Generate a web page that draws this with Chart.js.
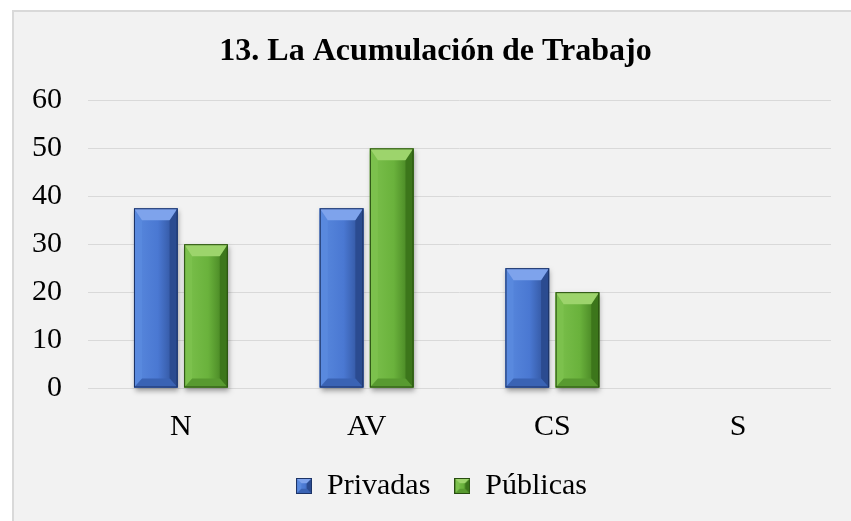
<!DOCTYPE html>
<html>
<head>
<meta charset="utf-8">
<script src="https://cdn.jsdelivr.net/npm/chart.js@4/dist/chart.umd.min.js"></script>
<style>
    html, body { margin: 0; padding: 0; background: #ffffff; overflow: hidden; }
    #frame {
        position: absolute; left: 12px; top: 10px;
        width: 860px; height: 530px;
        background: #f2f2f2;
        border: 2px solid #d9d9d9;
    }
    #chart { position: absolute; left: 0; top: 0; }
</style>
</head>
<body>
<div id="frame"><canvas id="chart" width="837" height="509"></canvas></div>
<script>
// Chart data
const categories = ['N', 'AV', 'CS', 'S'];
const privadas = [37.5, 37.5, 25, 0];
const publicas = [30, 50, 20, 0];
const yTicks = [0, 10, 20, 30, 40, 50, 60];

const serif = "'Liberation Serif', 'Times New Roman', serif";

// Bevel palettes for each series
const palettes = [
    { base: '#4a78d2', top: '#7ea3ec', left: '#5989de', right: '#2b4b90', bottom: '#3a63b4', edge: '#1c3366' },
    { base: '#6ab23c', top: '#9dd46c', left: '#7cc14d', right: '#3c761b', bottom: '#589a30', edge: '#284d10' }
];

/**
 * Draw a beveled rectangle like the Office "bevel" bar effect
 */
function drawBevel(ctx, L, T, R, B, pal, shadow) {
    const w = R - L, h = B - T;
    if (h <= 0.5) return;
    const bx = Math.min(8, w / 3);
    const bt = Math.min(12, h / 3);
    const bb = Math.min(9, h / 3);

    ctx.save();
    if (shadow) {
        ctx.shadowColor = 'rgba(0,0,0,0.35)';
        ctx.shadowBlur = 5;
        ctx.shadowOffsetX = 1;
        ctx.shadowOffsetY = 3;
    }
    ctx.fillStyle = pal.base;
    ctx.fillRect(L, T, w, h);
    ctx.restore();

    const face = ctx.createLinearGradient(L, 0, R, 0);
    face.addColorStop(0, pal.left);
    face.addColorStop(0.55, pal.base);
    face.addColorStop(1, pal.right);
    ctx.fillStyle = face;
    ctx.fillRect(L, T, w, h);

    const poly = (pts, color) => {
        ctx.beginPath();
        ctx.moveTo(pts[0][0], pts[0][1]);
        for (let i = 1; i < pts.length; i++) ctx.lineTo(pts[i][0], pts[i][1]);
        ctx.closePath();
        ctx.fillStyle = color;
        ctx.fill();
    };
    poly([[L, T], [L + bx, T + bt], [L + bx, B - bb], [L, B]], pal.left);
    poly([[R, T], [R - bx, T + bt], [R - bx, B - bb], [R, B]], pal.right);
    poly([[L, T], [R, T], [R - bx, T + bt], [L + bx, T + bt]], pal.top);
    poly([[L, B], [R, B], [R - bx, B - bb], [L + bx, B - bb]], pal.bottom);

    ctx.strokeStyle = pal.edge;
    ctx.lineWidth = 1;
    ctx.strokeRect(L + 0.5, T + 0.5, w - 1, h - 1);
}

// Small beveled squares for the legend
function legendMarker(pal) {
    const c = document.createElement('canvas');
    c.width = 16; c.height = 16;
    drawBevel(c.getContext('2d'), 0, 0, 16, 16, pal, false);
    return c;
}

const bevelPlugin = {
    id: 'bevelBars',
    afterDatasetsDraw(chart) {
        const ctx = chart.ctx;
        chart.data.datasets.forEach((ds, i) => {
            const meta = chart.getDatasetMeta(i);
            meta.data.forEach(bar => {
                const p = bar.getProps(['x', 'y', 'base', 'width'], true);
                drawBevel(ctx, p.x - p.width / 2, p.y, p.x + p.width / 2, p.base, palettes[i], true);
            });
        });
    }
};

// Title and legend sit a little right of the canvas centre in the original
const shiftPlugin = {
    id: 'shiftBlocks',
    afterLayout(chart) {
        if (chart.titleBlock) { chart.titleBlock.left += 13; chart.titleBlock.right += 13; }
        if (chart.legend) { chart.legend.left += 19; chart.legend.right += 19; }
    }
};

new Chart(document.getElementById('chart'), {
    type: 'bar',
    data: {
        labels: categories,
        datasets: [
            { label: 'Privadas', data: privadas, backgroundColor: palettes[0].base, pointStyle: legendMarker(palettes[0]) },
            { label: 'Públicas', data: publicas, backgroundColor: palettes[1].base, pointStyle: legendMarker(palettes[1]) }
        ]
    },
    options: {
        responsive: false,
        animation: false,
        datasets: { bar: { categoryPercentage: 0.54, barPercentage: 0.87 } },
        layout: { padding: { left: 0, right: 20, top: 0, bottom: 10 } },
        scales: {
            x: {
                grid: { display: false },
                border: { display: false },
                ticks: { color: '#000', padding: 13, font: { family: serif, size: 30 } },
                afterFit: scale => { scale.height = 59; }
            },
            y: {
                min: 0,
                max: 60,
                afterBuildTicks: scale => { scale.ticks = yTicks.map(v => ({ value: v })); },
                grid: { color: '#d9d9d9', lineWidth: 1, drawTicks: false },
                border: { display: false },
                ticks: { color: '#000', padding: 26, font: { family: serif, size: 30 } },
                afterFit: scale => { scale.width = 74; }
            }
        },
        plugins: {
            title: {
                display: true,
                text: '13. La Acumulación de Trabajo',
                color: '#000',
                font: { family: serif, size: 32, weight: 'bold' },
                padding: { top: 21, bottom: 29 }
            },
            legend: {
                position: 'bottom',
                labels: {
                    usePointStyle: true,
                    boxWidth: 16,
                    boxHeight: 16,
                    color: '#000',
                    padding: 24,
                    font: { family: serif, size: 30 }
                }
            },
            tooltip: { enabled: false }
        }
    },
    plugins: [bevelPlugin, shiftPlugin]
});
</script>
</body>
</html>
